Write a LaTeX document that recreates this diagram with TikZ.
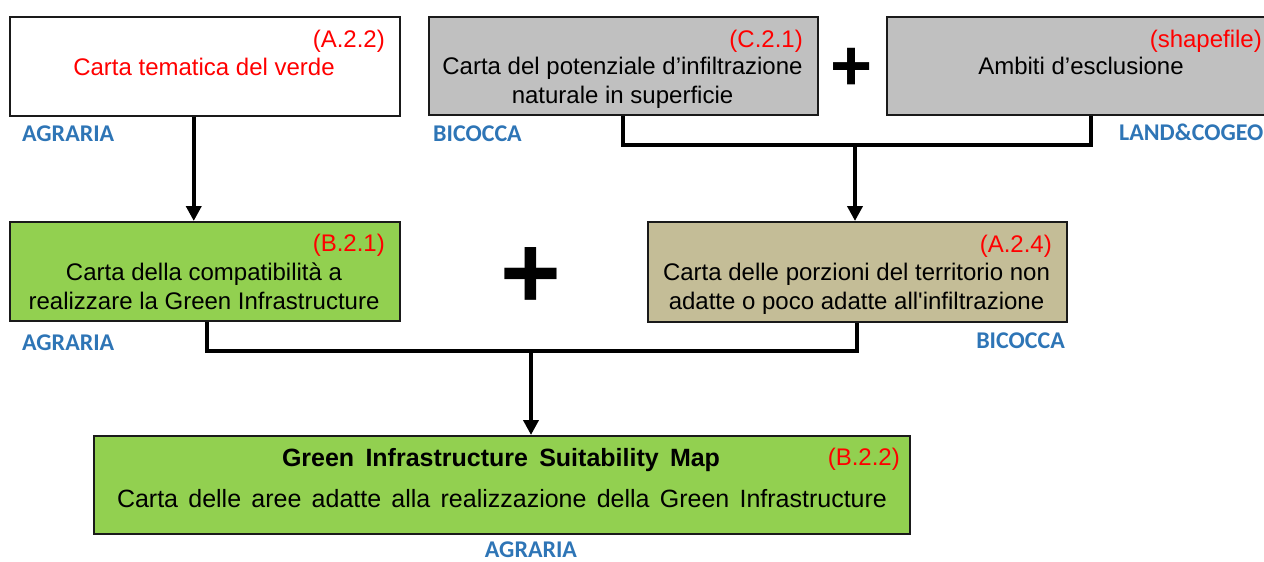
\documentclass[tikz,border=0pt]{standalone}
\usepackage{fontspec}
\setmainfont{Liberation Sans}
\newfontfamily\lblfont{Carlito}
\usetikzlibrary{arrows.meta}
\definecolor{redlbl}{HTML}{FF0000}
\definecolor{bluelbl}{HTML}{2E75B6}
\definecolor{greyfill}{HTML}{C0C0C0}
\definecolor{greenfill}{HTML}{92D050}
\definecolor{tanfill}{HTML}{C4BD97}
\definecolor{edge}{HTML}{1A1A1A}
\tikzset{
  box/.style={draw=edge, line width=1.5pt, rectangle, inner sep=0pt, anchor=north west},
  maintxt/.style={inner sep=0pt, anchor=base, font=\fontsize{24pt}{28pt}\selectfont},
  codetxt/.style={inner sep=0pt, anchor=base east, text=redlbl, font=\fontsize{24pt}{28pt}\selectfont},
  unit/.style={inner sep=0pt, anchor=base west, text=bluelbl, font=\lblfont\bfseries\fontsize{24pt}{26pt}\selectfont},
  plussign/.style={inner sep=0pt, anchor=base, font=\bfseries\fontsize{#1}{#1}\selectfont},
  conn/.style={line width=4pt, draw=black},
  arr/.style={conn, -{Triangle[width=15pt,length=15pt]}}
}
\begin{document}
\begin{tikzpicture}[x=1pt,y=-1pt]
\useasboundingbox (0,0) rectangle (1264,562);
% boxes
\node[box, fill=white, minimum width=390pt, minimum height=99pt] (A) at (9,16) {};
\node[box, fill=greyfill, minimum width=389pt, minimum height=98pt] (C) at (428,16) {};
\node[box, fill=greyfill, minimum width=390pt, minimum height=98pt] (S) at (886,16) {};
\node[box, fill=greenfill, minimum width=390pt, minimum height=99pt] (B) at (9,221) {};
\node[box, fill=tanfill, minimum width=419pt, minimum height=100pt] (D) at (647,221) {};
\node[box, fill=greenfill, minimum width=816pt, minimum height=98pt] (E) at (93,435) {};
% texts row 1
\node[codetxt] (Acode) at (385,47) {(A.2.2)};
\node[maintxt, text=redlbl] (Atxt) at (204,75) {Carta tematica del verde};
\node[codetxt] (Ccode) at (803,47) {(C.2.1)};
\node[maintxt] (Ctxt1) at (622.5,74) {Carta del potenziale d’infiltrazione};
\node[maintxt] (Ctxt2) at (622.5,103) {naturale in superficie};
\node[codetxt] (Scode) at (1262,47) {(shapefile)};
\node[maintxt] (Stxt) at (1081,74) {Ambiti d’esclusione};
\node[plussign=72pt] (plus1) at (852,90) {+};
% texts row 2
\node[codetxt] (Bcode) at (385,251.5) {(B.2.1)};
\node[maintxt] (Btxt1) at (204,280.5) {Carta della compatibilità a};
\node[maintxt] (Btxt2) at (204,309.3) {realizzare la Green Infrastructure};
\node[codetxt] (Dcode) at (1052,252) {(A.2.4)};
\node[maintxt] (Dtxt1) at (856.5,280.5) {Carta delle porzioni del territorio non};
\node[maintxt] (Dtxt2) at (856.5,309) {adatte o poco adatte all\textquotesingle infiltrazione};
\node[plussign=104pt] (plus2) at (531,308) {+};
% texts row 3
\node[maintxt, font=\bfseries\fontsize{25pt}{28pt}\selectfont] (Etitle) at (501,466.7) {\makebox[438pt][s]{Green Infrastructure Suitability Map}};
\node[maintxt, font=\fontsize{25pt}{28pt}\selectfont] (Etxt) at (502,507.7) {\makebox[770pt][s]{Carta delle aree adatte alla realizzazione della Green Infrastructure}};
\node[codetxt] (Ecode) at (900,465) {(B.2.2)};
% unit labels
\node[unit] (u1) at (22,141.5) {AGRARIA};
\node[unit] (u2) at (433,141.5) {BICOCCA};
\node[unit] (u3) at (1119,140) {LAND\&COGEO};
\node[unit] (u4) at (22,350) {AGRARIA};
\node[unit, anchor=base east] (u5) at (1065,348) {BICOCCA};
\node[unit, anchor=base] (u6) at (531,557) {AGRARIA};
% connectors
\coordinate (j1) at (855,145);
\coordinate (j2) at (531,351);
\draw[arr] ([xshift=-11pt]A.south) -- ([xshift=-11pt]B.north);
\draw[conn] (C.south) |- (j1) -| ([xshift=9pt]S.south);
\draw[arr] (j1) -- (j1 |- D.north);
\draw[conn] ([xshift=2pt]B.south) |- (j2) -| (D.south);
\draw[arr] (j2) -- (j2 |- E.north);
\end{tikzpicture}
\end{document}
